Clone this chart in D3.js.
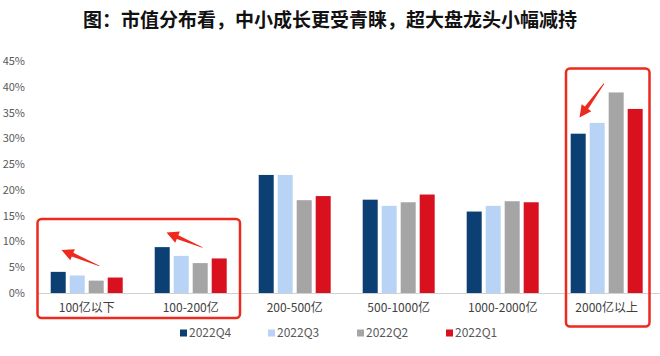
<!DOCTYPE html>
<html><head><meta charset="utf-8">
<script src="https://cdn.jsdelivr.net/npm/d3@7"></script>
<style>
html,body{margin:0;padding:0;background:#fff;}
svg{display:block;}
</style>
</head><body>
<svg id="c" width="660" height="356"></svg>
<script>
const title = "图：市值分布看，中小成长更受青睐，超大盘龙头小幅减持";
const categories = ["100亿以下","100-200亿","200-500亿","500-1000亿","1000-2000亿","2000亿以上"];
const seriesNames = ["2022Q4","2022Q3","2022Q2","2022Q1"];
const q4 = [4.1, 8.9, 22.9, 18.1, 15.8, 30.9];
const q3 = [3.4, 7.2, 22.9, 16.9, 16.9, 33.0];
const q2 = [2.4, 5.8, 18.0, 17.6, 17.8, 38.9];
const q1 = [3.0, 6.7, 18.8, 19.1, 17.6, 35.7];
const yTicks = [0,5,10,15,20,25,30,35,40,45];
const colors = ["#0c4075","#b8d3f5","#a5a5a5","#d9101e"];
const seriesValues = [q4,q3,q2,q1];

const svg = d3.select("#c");
const font = "'Noto Sans CJK SC','Noto Sans',sans-serif";

svg.append("text").attr("x",330).attr("y",27).attr("text-anchor","middle")
  .attr("font-family",font).attr("font-weight","bold").attr("font-size",19)
  .attr("fill","#111").text(title);

const x0 = d3.scaleBand().domain(categories).range([34.7,658.7]).paddingInner(0.3077).paddingOuter(0.154);
const x1 = d3.scaleBand().domain(seriesNames).range([0,x0.bandwidth()]).paddingInner(0.21).paddingOuter(0);
const y = d3.scaleLinear().domain([0,45]).range([293,61]);

// y axis labels
const yAxis = d3.axisLeft(y).tickValues(yTicks).tickFormat(d=>d+"%").tickSize(0).tickPadding(0);
const gy = svg.append("g").attr("transform","translate(25,0)").call(yAxis);
gy.select(".domain").remove();
gy.selectAll("text").attr("font-family",font).attr("font-size",11).attr("fill","#595959");

// bars
const data = categories.map((c,i)=>({cat:c, vals: seriesNames.map((s,j)=>({s, v: seriesValues[j][i], j}))}));
const groups = svg.append("g").selectAll("g").data(data).join("g")
  .attr("transform",d=>`translate(${x0(d.cat)},0)`);
groups.selectAll("rect").data(d=>d.vals).join("rect")
  .attr("x",d=>x1(d.s)).attr("width",x1.bandwidth())
  .attr("y",d=>y(d.v)).attr("height",d=>y(0)-y(d.v))
  .attr("fill",d=>colors[d.j]);

// baseline
svg.append("line").attr("x1",38).attr("x2",660).attr("y1",y(0)+0.5).attr("y2",y(0)+0.5)
  .attr("stroke","#d0d0d0").attr("stroke-width",1);

// x axis labels
const xAxis = d3.axisBottom(x0).tickSize(0).tickPadding(0);
const gx = svg.append("g").attr("transform",`translate(0,${y(0)+10})`).call(xAxis);
gx.select(".domain").remove();
gx.selectAll("text").attr("font-family",font).attr("font-size",12).attr("fill","#404040");

// legend
const legendX = [180,268,357,446];
const lg = svg.append("g").selectAll("g").data(seriesNames).join("g")
  .attr("transform",(d,i)=>`translate(${legendX[i]},333)`);
lg.append("rect").attr("x",0).attr("y",-3.5).attr("width",7).attr("height",7).attr("fill",(d,i)=>colors[i]);
lg.append("text").attr("x",9).attr("y",0).attr("dy","0.35em").attr("font-family",font)
  .attr("font-size",12).attr("fill","#595959").text(d=>d);

// annotations: red boxes
const red = "#ee2a1e";
svg.append("rect").attr("x",37.5).attr("y",219).attr("width",202.5).attr("height",99)
  .attr("rx",4).attr("fill","none").attr("stroke",red).attr("stroke-width",2.5);
svg.append("rect").attr("x",566).attr("y",68.5).attr("width",83.5).attr("height",258)
  .attr("rx",4).attr("fill","none").attr("stroke",red).attr("stroke-width",2.5);

// arrows
function arrow(x1a,y1a,x2a,y2a){
  const dx=x2a-x1a, dy=y2a-y1a, L=Math.hypot(dx,dy);
  const ux=dx/L, uy=dy/L, px=-uy, py=ux;
  const headL=12, headW=6, shaftW=4;
  const bx=x2a-ux*headL, by=y2a-uy*headL;
  const pts=[
    [x1a+px*0.4,y1a+py*0.4],
    [bx+px*shaftW/2,by+py*shaftW/2],
    [bx+px*headW,by+py*headW],
    [x2a,y2a],
    [bx-px*headW,by-py*headW],
    [bx-px*shaftW/2,by-py*shaftW/2],
    [x1a-px*0.4,y1a-py*0.4]
  ];
  svg.append("polygon").attr("points",pts.map(p=>p.join(",")).join(" ")).attr("fill",red);
}
arrow(99.5,266,61.5,250);
arrow(202.5,247.5,166.5,232.5);
arrow(604,83.5,579.5,117.5);
</script>
</body></html>
